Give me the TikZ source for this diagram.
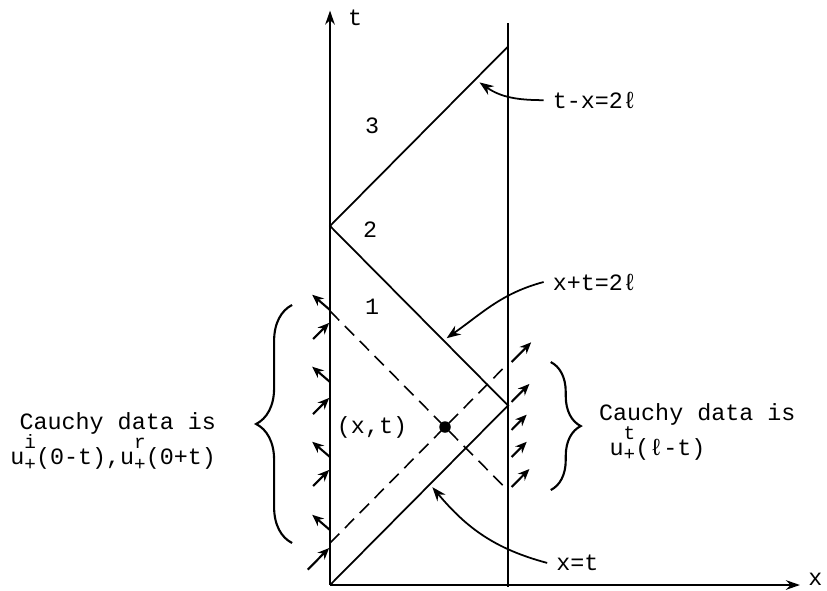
\documentclass[tikz,border=0pt]{standalone}
\usepackage{amsmath}
\usepackage{fontspec}
\setmonofont{Liberation Mono}
\usetikzlibrary{decorations.pathreplacing, arrows.meta, positioning}

\newcommand{\idx}{\fontsize{11}{11}\selectfont}
\newcommand{\uval}[1]{u\rlap{\raisebox{9pt}{\idx #1}}\raisebox{-3pt}{\idx +}}

\begin{document}
\begin{tikzpicture}[
  x=3.56cm, y=3.59cm,
  lbl/.style={
    font=\ttfamily\fontsize{13.3}{20}\selectfont,
    inner sep=1pt
  },
  eqlbl/.style={
    lbl,
    inner sep=5pt
  },
  axis/.style={-{Stealth[length=8pt, width=5.5pt]}, line width=1.1pt},
  wall/.style={line width=1pt},
  ray/.style={line width=1pt},
  dray/.style={line width=0.9pt, dash pattern=on 7.5pt off 4.5pt},
  flux/.style={-{Stealth[length=6.5pt, width=5.5pt]}, line width=1.2pt},
  pointer/.style={-{Stealth[length=8pt, width=6pt]}, line width=1pt},
  curly/.style={decorate, line width=1.2pt},
  dot/.style={circle, fill=black, inner sep=0pt, minimum size=0.23cm}
]

\useasboundingbox (-1.854,-0.033) rectangle (2.792,3.259);

% axes and the wall x = l
\coordinate (O) at (0,0);
\coordinate (tEnd) at (0,3.2);
\coordinate (xEnd) at (2.64,0);
\coordinate (wallBot) at (1,-0.01);
\coordinate (wallTop) at (1,3.13);
\draw[axis] (O) -- (tEnd);
\draw[axis] (O) -- (xEnd);
\draw[wall] (wallBot) -- (wallTop);
\node[lbl, anchor=west] (tlab) at (0.09,3.16) {t};
\node[lbl, anchor=west, inner sep=0pt] (xlab) at (2.685,0.03) {x};

% reflected characteristics
\coordinate (A) at (1,1);
\coordinate (B) at (0,2);
\coordinate (C) at (1,3);
\draw[ray] (O) -- (A) -- (B) -- (C);

% the point (x,t) and its two dashed characteristics
\node[dot] (P) at (0.646,0.88) {};
\coordinate (Pl) at (0,0.234);
\coordinate (Pr) at (1,1.234);
\coordinate (Ql) at (0,1.526);
\coordinate (Qr) at (1,0.526);
\draw[dray] (Pl) -- (Pr);
\draw[dray] (Ql) -- (Qr);

\node[lbl] (r3) at (0.236,2.56) {3};
\node[lbl] (r2) at (0.225,1.98) {2};
\node[lbl] (r1) at (0.236,1.55) {1};
\node[lbl] (ptlab) at (0.236,0.875) {(x,t)};

% data arrows on t = 0 side
\foreach \t in {1.532,1.131,0.713,0.306}
  \draw[flux] (0,\t) -- ++(-0.1,0.085);
\foreach \t/\d in {1.46/0.09,1.042/0.09,0.641/0.09,0.206/0.12}
  \draw[flux] (-\d-0.005,\t-\d) -- (-0.005,\t);

% data arrows on x = l side
\foreach \t/\d in {1.242/0.11,1.02/0.1,0.864/0.085,0.713/0.085,0.546/0.1}
  \draw[flux] (1.02,\t) -- ++(\d,\d);

% braces and Cauchy data
\draw[curly, decoration={brace, amplitude=0.72cm}] (-0.213,0.234) -- (-0.213,1.56);
\draw[curly, decoration={brace, amplitude=0.6cm}] (1.24,1.242) -- (1.24,0.529);
\node[lbl, align=right, anchor=east] (lcauchy) at (-0.629,0.8)
  {Cauchy data is\\\uval{i}(0-t),\uval{r}(0+t)};
\node[lbl, align=left, anchor=west] (rcauchy) at (1.5,0.852)
  {Cauchy data is\\\hspace*{0.45em}\uval{t}(ℓ-t)};

% labels of the lines
\node[eqlbl, anchor=west] (txlab) at (1.2,2.701) {t-x=2ℓ};
\node[eqlbl, anchor=west] (xtlab) at (1.2,1.688) {x+t=2ℓ};
\node[eqlbl, anchor=west] (eqlab) at (1.22,0.123) {x=t};
\coordinate (tipA) at (0.84,2.8);
\coordinate (tipB) at (0.655,1.375);
\coordinate (tipC) at (0.575,0.545);
\draw[pointer] (txlab.west) to[out=180, in=-35] (tipA);
\draw[pointer] (xtlab.west) to[out=195, in=35] (tipB);
\draw[pointer] (eqlab.west) to[out=165, in=-50] (tipC);

\end{tikzpicture}
\end{document}
